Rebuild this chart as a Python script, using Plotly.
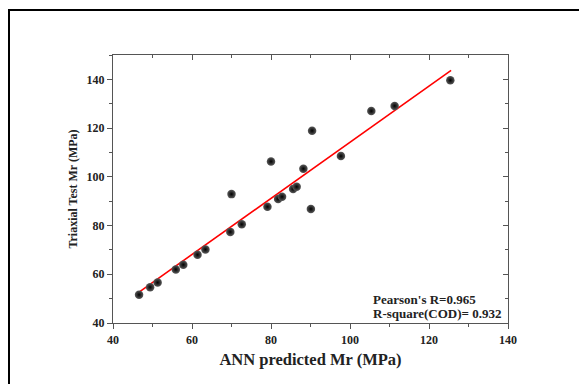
import plotly.graph_objects as go

# Data
ann_pred = [46.6, 49.4, 51.3, 55.9, 57.8, 61.4, 63.4, 69.7, 70.0, 72.6, 79.1, 80.0,
            81.8, 82.8, 85.6, 86.5, 88.2, 90.1, 90.4, 97.7, 105.4, 111.3, 125.4]
triaxial = [51.6, 54.7, 56.6, 62.0, 63.9, 68.0, 70.2, 77.4, 92.9, 80.5, 87.7, 106.3,
            90.9, 91.8, 95.0, 95.9, 103.3, 86.8, 118.9, 108.5, 127.0, 129.1, 139.6]
fit_x = [46.6, 125.6]
fit_y = [52.7, 143.7]
stats_text = ["Pearson's R=0.965", "R-square(COD)= 0.932"]
x_range = [40, 140]
y_range = [40, 150]

W, H = 579, 384
L, R, T, B = 113, 71, 55, 61
pw, ph = W - L - R, H - T - B

serif = "Liberation Serif"
txt = "#222222"
axc = "#555555"

fig = go.Figure()
fig.add_trace(go.Scatter(x=fit_x, y=fit_y, mode="lines",
                         line=dict(color="#ff0000", width=1.6), showlegend=False))
fig.add_trace(go.Scatter(x=ann_pred, y=triaxial, mode="markers",
                         marker=dict(size=8.5, color="#5a5a5a",
                                     gradient=dict(type="radial", color="#000000"),
                                     line=dict(width=0)),
                         showlegend=False))

common = dict(showline=True, linecolor=axc, linewidth=1.2, showgrid=False,
              zeroline=False, tickcolor=axc)
fig.update_layout(
    width=W, height=H,
    margin=dict(l=L, r=R, t=T, b=B),
    plot_bgcolor="white", paper_bgcolor="white",
    xaxis=dict(range=x_range, dtick=20, ticks="outside", ticklen=5,
               minor=dict(dtick=10, ticks="outside", ticklen=3, tickcolor=axc),
               tickfont=dict(family=serif, size=12, color=txt, weight="bold"),
               title=dict(text="ANN predicted Mr (MPa)", standoff=7,
                          font=dict(family=serif, size=16.5, color=txt, weight="bold")),
               **common),
    yaxis=dict(range=y_range, tickvals=[40, 60, 80, 100, 120, 140], ticks="outside", ticklen=5,
               minor=dict(dtick=10, ticks="outside", ticklen=3, tickcolor=axc),
               tickfont=dict(family=serif, size=12, color=txt, weight="bold"),
               title=dict(text="Triaxial Test Mr (MPa)", standoff=6,
                          font=dict(family=serif, size=12, color=txt, weight="bold")),
               **common),
    xaxis2=dict(range=x_range, overlaying="x", side="top", anchor="y", dtick=20,
                ticks="inside", ticklen=5, showticklabels=False,
                minor=dict(dtick=10, ticks="inside", ticklen=3, tickcolor=axc), **common),
    yaxis2=dict(range=y_range, overlaying="y", side="right", anchor="x", dtick=20,
                ticks="inside", ticklen=5, showticklabels=False,
                minor=dict(dtick=10, ticks="inside", ticklen=3, tickcolor=axc), **common),
)
# invisible trace so the mirrored axes are drawn
fig.add_trace(go.Scatter(x=[x_range[0]], y=[y_range[0]], xaxis="x2", yaxis="y2",
                         mode="markers", marker=dict(opacity=0), showlegend=False,
                         hoverinfo="skip"))

for i, t in enumerate(stats_text):
    fig.add_annotation(x=105.2, y=[49.8, 44.1][i], xref="x", yref="y", text=t,
                       showarrow=False, xanchor="left", yanchor="middle",
                       font=dict(family=serif, size=13, color=txt, weight="bold"))

# outer black frame (open to right and bottom)
def px_to_paper_x(px):
    return (px - L) / pw

def px_to_paper_y(py):
    return (H - B - py) / ph

fig.add_shape(type="rect", xref="paper", yref="paper",
              x0=px_to_paper_x(9), x1=px_to_paper_x(W + 20),
              y0=px_to_paper_y(H + 20), y1=px_to_paper_y(10),
              line=dict(color="black", width=2), layer="below")

fig.write_html("out.html", config={"displayModeBar": False},
               post_script="document.body.style.margin='0';document.body.style.overflow='hidden';")
